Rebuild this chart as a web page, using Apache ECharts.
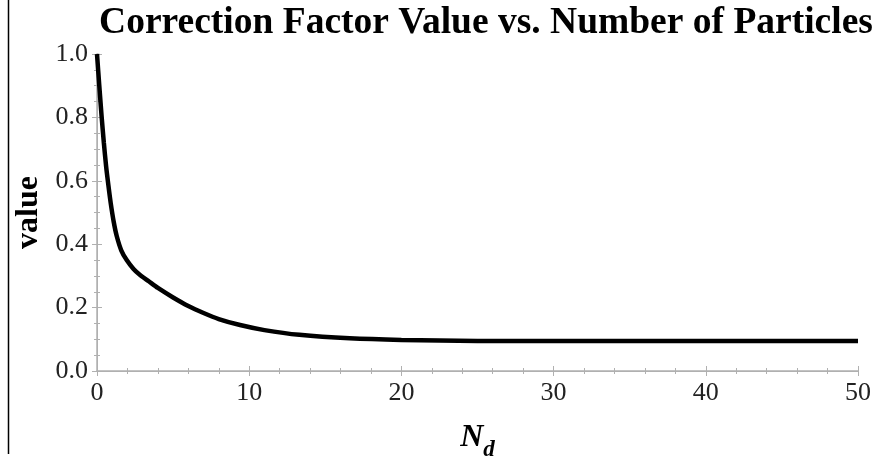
<!DOCTYPE html>
<html><head><meta charset="utf-8">
<script src="https://cdn.jsdelivr.net/npm/echarts@6/dist/echarts.min.js"></script>
<style>html,body{margin:0;padding:0;background:#fff}#c{width:878px;height:461px}</style>
</head><body><div id="c"></div>
<script>
const titleText = 'Correction Factor Value vs. Number of Particles';
const nValues = [0, 0.15, 0.3, 0.45, 0.6, 0.75, 0.9, 1.1, 1.3, 1.6, 1.95, 2.4, 2.83, 3.4, 4, 5, 6, 7, 8, 9.4, 11, 13.3, 16.6, 20, 25, 30, 40, 50];
const factorValues = [1.0, 0.90, 0.805, 0.72, 0.645, 0.585, 0.53, 0.47, 0.425, 0.38, 0.35, 0.322, 0.303, 0.283, 0.262, 0.232, 0.205, 0.183, 0.164, 0.145, 0.129, 0.114, 0.103, 0.098, 0.095, 0.095, 0.095, 0.095];
const xTicks = [0, 10, 20, 30, 40, 50];
const yTicks = [0.0, 0.2, 0.4, 0.6, 0.8, 1.0];

const serif = '"Liberation Serif","DejaVu Serif",serif';
const chart = echarts.init(document.getElementById('c'), null, {renderer: 'canvas'});
const frameColor = '#b0b0b0';
const tickStyle = {show: true, inside: true, length: 5, lineStyle: {color: frameColor, width: 1}};
const minorStyle = {show: true, splitNumber: 0, length: 3, lineStyle: {color: frameColor, width: 1}};
chart.setOption({
  animation: false,
  title: {text: titleText, left: 481, top: -1, textAlign: 'center',
    textStyle: {fontFamily: serif, fontWeight: 'bold', fontSize: 37.5, color: '#000'}},
  grid: {left: 97, right: 20, top: 54, bottom: 90, containLabel: false, outerBoundsMode: 'none'},
  xAxis: [{
    type: 'value', min: xTicks[0], max: xTicks[xTicks.length - 1], interval: 10,
    axisLine: {show: true, lineStyle: {color: frameColor, width: 1.5}},
    axisTick: tickStyle,
    minorTick: Object.assign({}, minorStyle, {splitNumber: 5}),
    splitLine: {show: false},
    axisLabel: {fontFamily: serif, fontSize: 26, color: '#222', margin: 9,
      formatter: v => xTicks.includes(v) ? String(v) : ''},
    name: '{n|N}{d|d}', nameLocation: 'middle', nameGap: 49,
    nameTextStyle: {rich: {
      n: {fontFamily: serif, fontWeight: 'bold', fontStyle: 'italic', fontSize: 32, color: '#000', verticalAlign: 'bottom', lineHeight: 34},
      d: {fontFamily: serif, fontWeight: 'bold', fontStyle: 'italic', fontSize: 23, color: '#000', verticalAlign: 'bottom', lineHeight: 34, padding: [0, 0, -8, 0]}
    }}
  }, {
    type: 'value', position: 'top', min: 0, max: 50, interval: 10,
    axisLine: {show: true, lineStyle: {color: frameColor, width: 1}},
    axisTick: tickStyle,
    minorTick: Object.assign({}, minorStyle, {splitNumber: 5}),
    splitLine: {show: false}, axisLabel: {show: false}
  }],
  yAxis: [{
    type: 'value', min: yTicks[0], max: yTicks[yTicks.length - 1], interval: 0.2,
    axisLine: {show: true, lineStyle: {color: frameColor, width: 1.5}},
    axisTick: tickStyle,
    minorTick: Object.assign({}, minorStyle, {splitNumber: 4}),
    splitLine: {show: false},
    axisLabel: {fontFamily: serif, fontSize: 26, color: '#222', margin: 9,
      formatter: v => v.toFixed(1)},
    name: 'value', nameLocation: 'middle', nameGap: 50, nameRotate: 90,
    nameTextStyle: {fontFamily: serif, fontWeight: 'bold', fontSize: 32, color: '#000'}
  }, {
    type: 'value', position: 'right', min: 0, max: 1, interval: 0.2,
    axisLine: {show: true, lineStyle: {color: frameColor, width: 1}},
    axisTick: tickStyle,
    minorTick: Object.assign({}, minorStyle, {splitNumber: 4}),
    splitLine: {show: false}, axisLabel: {show: false}
  }],
  graphic: [{type: 'line', shape: {x1: 8.5, y1: 0, x2: 8.5, y2: 454}, style: {stroke: '#000', lineWidth: 1.5}}],
  series: [{
    type: 'line', xAxisIndex: 0, yAxisIndex: 0,
    data: nValues.map((n, i) => [n, factorValues[i]]),
    smooth: 0.25, showSymbol: false, symbol: 'none',
    lineStyle: {color: '#000', width: 4.5}
  }]
});
</script></body></html>
